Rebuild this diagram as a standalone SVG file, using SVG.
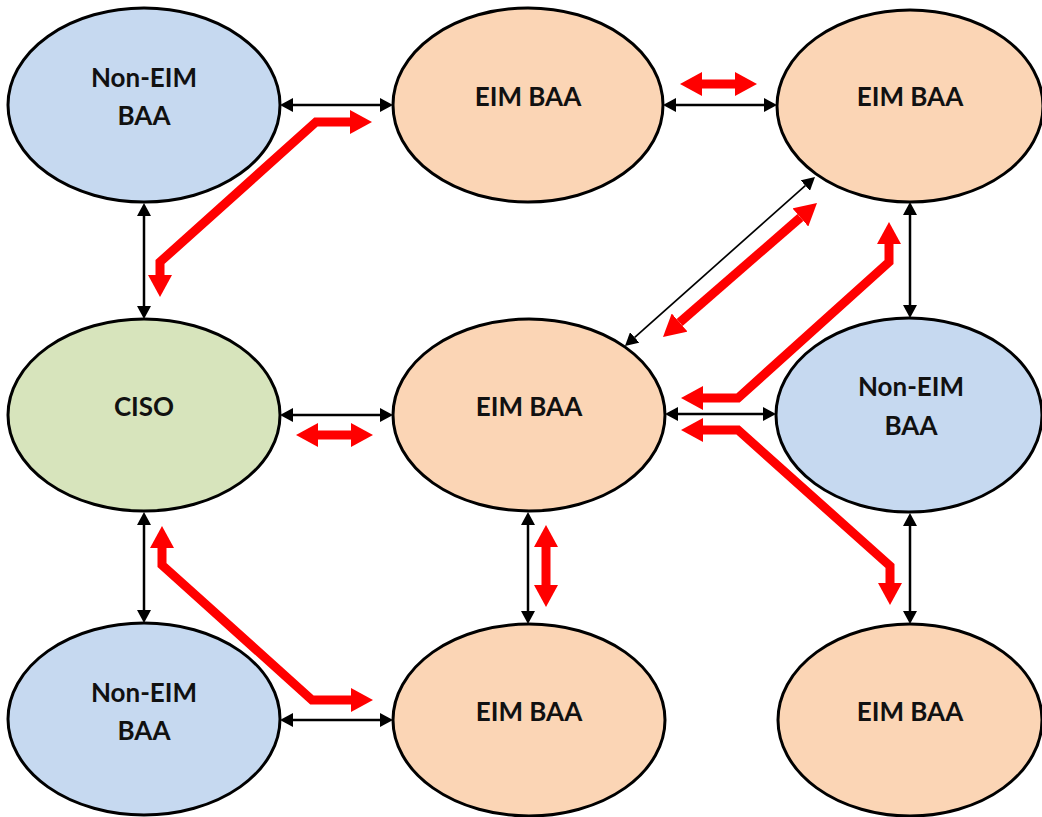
<svg xmlns="http://www.w3.org/2000/svg" width="1042" height="817" viewBox="0 0 1042 817">
<style>
.n{stroke:#000;stroke-width:3}
.blue{fill:#c6d9f0}
.org{fill:#fbd5b5}
.grn{fill:#d7e4bc}
.t{font-family:Lato,"Open Sans","Liberation Sans",sans-serif;font-weight:bold;font-size:26px;fill:#111;text-anchor:middle}
.b{fill:none;stroke:#000;stroke-width:2.5;marker-start:url(#bh);marker-end:url(#bh)}
.bd{fill:none;stroke:#000;stroke-width:1.7;marker-start:url(#bh);marker-end:url(#bh)}
.r{fill:none;stroke:#f00;stroke-width:9;stroke-linejoin:miter;marker-start:url(#rh);marker-end:url(#rh)}
</style>
<defs>
<marker id="bh" viewBox="0 0 13 14" refX="0" refY="7" markerWidth="13" markerHeight="14" markerUnits="userSpaceOnUse" orient="auto-start-reverse"><path d="M0,0 L13,7 L0,14 z" fill="#000"/></marker>
<marker id="rh" viewBox="0 0 22 24" refX="0" refY="12" markerWidth="22" markerHeight="24" markerUnits="userSpaceOnUse" orient="auto-start-reverse"><path d="M0,0 L22,12 L0,24 z" fill="#f00"/></marker>
</defs>
<rect width="1042" height="817" fill="#fff"/>
<g id="n1"><ellipse class="n blue" cx="144" cy="105" rx="136" ry="97"/><text class="t" x="144" y="87">Non-EIM</text><text class="t" x="144" y="125">BAA</text></g>
<g id="n2"><ellipse class="n org" cx="528" cy="105" rx="135" ry="97"/><text class="t" x="528" y="106">EIM BAA</text></g>
<g id="n3"><ellipse class="n org" cx="910" cy="106" rx="133" ry="96"/><text class="t" x="910" y="106">EIM BAA</text></g>
<g id="n4"><ellipse class="n grn" cx="144" cy="415" rx="136" ry="96"/><text class="t" x="144" y="416">CISO</text></g>
<g id="n5"><ellipse class="n org" cx="529" cy="415" rx="136" ry="96"/><text class="t" x="529" y="416">EIM BAA</text></g>
<g id="n6"><ellipse class="n blue" cx="909" cy="415" rx="133" ry="97"/><text class="t" x="911" y="396">Non-EIM</text><text class="t" x="911" y="435">BAA</text></g>
<g id="n7"><ellipse class="n blue" cx="144" cy="719" rx="136" ry="96"/><text class="t" x="144" y="702">Non-EIM</text><text class="t" x="144" y="740">BAA</text></g>
<g id="n8"><ellipse class="n org" cx="529" cy="720" rx="136" ry="96"/><text class="t" x="529" y="721">EIM BAA</text></g>
<g id="n9"><ellipse class="n org" cx="910" cy="720" rx="132" ry="96"/><text class="t" x="910" y="721">EIM BAA</text></g>
<g id="connectors">
<path class="b" d="M293,105 L380,105"/>
<path class="b" d="M676,105 L764,105"/>
<path class="b" d="M293,415 L380,415"/>
<path class="b" d="M678,414 L763,414"/>
<path class="b" d="M293,720 L380,720"/>
<path class="b" d="M144,216 L144,306"/>
<path class="b" d="M144,525 L144,610"/>
<path class="b" d="M528,525 L528,611"/>
<path class="b" d="M910,215 L910,305"/>
<path class="b" d="M910,526 L910,611"/>
<path class="bd" d="M805.3,185.6 L634.7,337.4"/>
<path class="r" d="M350,122 L316,122 L160,262 L160,275"/>
<path class="r" d="M702,84 L735,84"/>
<path class="r" d="M800.4,217.5 L679.6,322.5"/>
<path class="r" d="M889,244 L889,262 L738,398 L703,398"/>
<path class="r" d="M703,430 L738,430 L890,566 L890,583"/>
<path class="r" d="M318,435 L351,435"/>
<path class="r" d="M546,547 L546,585"/>
<path class="r" d="M162,548 L162,565 L312,700 L351,700"/>
</g>
</svg>
